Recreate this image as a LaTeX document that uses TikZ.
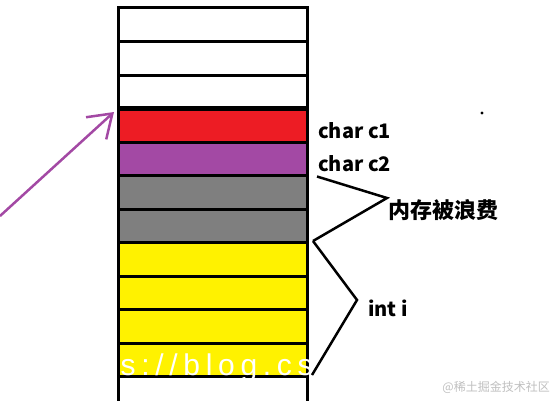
\documentclass[tikz,border=0pt]{standalone}
\usepackage{fontspec}
\setmainfont{Noto Sans CJK SC}
\newfontfamily\urlfont[LetterSpace=19]{Liberation Sans}
\usetikzlibrary{arrows.meta,positioning}

\definecolor{memred}{RGB}{237,28,36}
\definecolor{mempurple}{RGB}{163,73,164}
\definecolor{memgray}{RGB}{127,127,127}
\definecolor{memyellow}{RGB}{255,242,0}

\begin{document}
\begin{tikzpicture}[x=1bp,y=1bp]
  \useasboundingbox (0,0) rectangle (554,400);

      \tikzstyle{cell}=[rectangle,draw=black,line width=3bp,
        minimum width=189bp,minimum height=33.5bp,
        outer sep=0pt,inner sep=0pt]
      \tikzstyle{varname}=[inner sep=0pt,anchor=west,
        font=\fontsize{20bp}{24bp}\selectfont\bfseries]
      \tikzstyle{bracket}=[line width=2.5bp,black]

      % memory cells, top to bottom
      \node(Free1)[cell] at (212.5,375.25){};
      \node(Free2)[cell,below =0pt of Free1]{};
      \node(Free3)[cell,below =0pt of Free2]{};
      \node(CharC1)[cell,below =0pt of Free3,fill=memred]{};
      \node(CharC2)[cell,below =0pt of CharC1,fill=mempurple]{};
      \node(Waste1)[cell,below =0pt of CharC2,fill=memgray]{};
      \node(Waste2)[cell,below =0pt of Waste1,fill=memgray]{};
      \node(Int1)[cell,below =0pt of Waste2,fill=memyellow]{};
      \node(Int2)[cell,below =0pt of Int1,fill=memyellow]{};
      \node(Int3)[cell,below =0pt of Int2,fill=memyellow]{};
      \node(Int4)[cell,below =0pt of Int3,fill=memyellow]{};

      \draw [line width=4.5bp]
      (CharC1.north west)--(CharC1.north east);
      \draw [line width=3bp]
      (Int4.south west)--++(0,-30);
      \draw [line width=3bp]
      (Int4.south east)--++(0,-30);

      % names
      \node(C1Text)[varname,right =11bp of CharC1,
        yshift=-5bp]{char c1};
      \node(C2Text)[varname,right =11bp of CharC2,
        yshift=-5bp]{char c2};
      \node(WasteText)[varname,right =81bp of Waste1.south east,
        yshift=-1bp,font=\fontsize{22bp}{26bp}\selectfont\bfseries]{内存被浪费};
      \node(IntText)[varname,right =61bp of Int2.south east,
        yshift=1.5bp]{int i};

      \draw [bracket]
      ([xshift=10bp,yshift=-1bp]Waste1.north east)--
      ([xshift=-1bp,yshift=12bp]WasteText.west)--
      ([xshift=6bp,yshift=1.5bp]Waste2.south east);
      \draw [bracket]
      ([xshift=6bp,yshift=1.5bp]Waste2.south east)--
      ([xshift=-11bp,yshift=8bp]IntText.west)--
      ([xshift=5bp,yshift=1.5bp]Int4.south east);

      \fill (482,287) circle (1.6bp);

      % pointer
      \coordinate(PtrStart) at (0,184);
      \draw [line width=2.5bp,mempurple,
        -{Straight Barb[length=22bp,width=30bp]}]
      (PtrStart)--([xshift=-4bp,yshift=-3.5bp]CharC1.north west);

      % watermarks
      \node(Url)[anchor=base west,inner sep=0pt,white,
        font=\urlfont\fontsize{30bp}{34bp}\selectfont]
        at (98,25){ps://blog.cs};
      \node(Mark)[anchor=east,inner sep=0pt,black!25,
        font=\fontsize{12bp}{14bp}\selectfont]
        at (550,13){@稀土掘金技术社区};

    \end{tikzpicture}
\end{document}
